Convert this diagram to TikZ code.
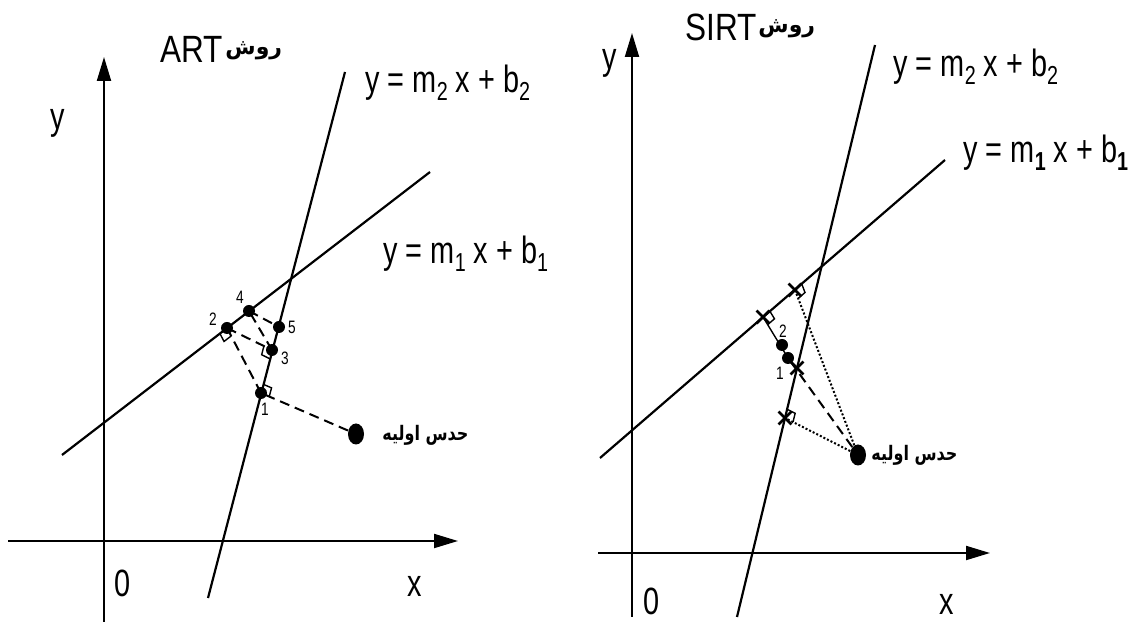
\documentclass[tikz,border=0pt]{standalone}
\usepackage{fontspec}
\setmainfont{Liberation Sans}[FakeStretch=0.76]
\newfontfamily\titlefont{Liberation Sans}[FakeStretch=0.83]
\newfontfamily\arabicfont[Script=Arabic]{DejaVu Sans}
\newfontfamily\arabicnarrow[Script=Arabic,FakeStretch=0.8]{DejaVu Sans}
\TeXXeTstate=1
\usepackage{tikz}
\usetikzlibrary{arrows.meta,calc,shapes.geometric,shapes.misc}

% lowered index as in the scanned figure
\newcommand{\lo}[1]{\raisebox{-0.35ex}{\fontsize{13}{13}\selectfont #1}}
% right-angle marker: foot, point along the line, point of origin
\newcommand{\rtang}[3]{%
  \draw[line width=0.7pt] ($(#1)!4.5pt!(#2)$) -- ($(#1)!4.5pt!(#2)+(#1)!4.5pt!(#3)-(#1)$) -- ($(#1)!4.5pt!(#3)$);}

\begin{document}
\begin{tikzpicture}[
  x=0.5pt,
  y=-0.5pt,
  font=\fontsize{19}{21}\selectfont,
  every node/.style={inner sep=0pt},
  axis/.style={line width=1pt, -{Triangle[length=12pt,width=7pt]}},
  eqline/.style={line width=1.1pt},
  proj/.style={line width=1pt, dash pattern=on 5pt off 3pt},
  ray/.style={line width=1pt, densely dotted},
  pt/.style={circle, fill, minimum size=6pt},
  guess/.style={ellipse, fill, minimum width=8pt, minimum height=10.5pt},
  xmark/.style={cross out, draw, line width=1.4pt, minimum size=5pt},
  num/.style={font=\fontsize{9}{10}\selectfont},
  title/.style={font=\titlefont\fontsize{19}{21}\selectfont},
  fa/.style={font=\arabicfont\bfseries\fontsize{11}{12}\selectfont},
  faguess/.style={font=\arabicnarrow\bfseries\fontsize{10}{12}\selectfont}
]
  \useasboundingbox (0,0) rectangle (1137,625);

  % ---------------- ART ----------------
  \coordinate (Lox) at (8,541);
  \coordinate (Lx) at (458,541);
  \coordinate (Loy) at (104,622);
  \coordinate (Ly) at (104,57);
  \draw[axis] (Lox) -- (Lx);
  \draw[axis] (Loy) -- (Ly);
  \node[anchor=base] (Lzero) at (123,597) {0};
  \node[anchor=base] (Lxlab) at (415,597) {x};
  \node[anchor=base] (Lylab) at (58,130) {y};

  \coordinate (La2) at (208,598);
  \coordinate (Lb2) at (345,72);
  \coordinate (La1) at (62,455);
  \coordinate (Lb1) at (430,172);
  \draw[eqline] (La2) -- (Lb2);
  \draw[eqline] (La1) -- (Lb1);

  \node[anchor=base west] (Leq2) at (365,93) {y = m\lo{2} x + b\lo{2}};
  \node[anchor=base west] (Leq1) at (383,264) {y = m\lo{1} x + b\lo{1}};
  \node[title, anchor=base west] (Lart) at (160,63) {ART};
  \node[fa, anchor=base west] (Lfa) at (225,55) {\beginR روش\endR};

  \coordinate (p1) at (261,393);
  \coordinate (p2) at (227,328);
  \coordinate (p3) at (272,350);
  \coordinate (p4) at (249,311);
  \coordinate (p5) at (279,327);
  \node[guess] (g) at (356,434) {};
  \node[faguess, anchor=west] (Lguess) at (382,435) {\beginR حدس اولیه\endR};

  \draw[proj] (g) -- (p1);
  \draw[proj] (p1) -- (p2);
  \draw[proj] (p2) -- (p3);
  \draw[proj] (p3) -- (p4);
  \draw[proj] (p4) -- (p5);
  \rtang{p2}{La1}{p1}
  \rtang{p1}{Lb2}{g}
  \rtang{p3}{La2}{p2}
  \foreach \p in {p1,p2,p3,p4,p5}
    \node[pt] at (\p) {};
  \node[num] (n1) at (265,409) {1};
  \node[num] (n2) at (213,319) {2};
  \node[num] (n3) at (285,358) {3};
  \node[num] (n4) at (240,297) {4};
  \node[num] (n5) at (292,327) {5};

  % ---------------- SIRT ----------------
  \coordinate (Rox) at (598,553);
  \coordinate (Rx) at (990,553);
  \coordinate (Roy) at (632,617);
  \coordinate (Ry) at (632,33);
  \draw[axis] (Rox) -- (Rx);
  \draw[axis] (Roy) -- (Ry);
  \node[anchor=base] (Rzero) at (652,615) {0};
  \node[anchor=base] (Rxlab) at (947,615) {x};
  \node[anchor=base] (Rylab) at (610,70) {y};

  \coordinate (Ra2) at (737,617);
  \coordinate (Rb2) at (875,45);
  \coordinate (Ra1) at (600,458);
  \coordinate (Rb1) at (945,160);
  \draw[eqline] (Ra2) -- (Rb2);
  \draw[eqline] (Ra1) -- (Rb1);

  \node[anchor=base west] (Req2) at (893,77) {y = m\lo{2} x + b\lo{2}};
  \node[anchor=base west] (Req1) at (963,163) {y = m\lo{\bfseries 1} x + b\lo{\bfseries 1}};
  \node[title, anchor=base west] (Rsirt) at (685,41) {SIRT};
  \node[fa, anchor=base west] (Rfa) at (758,33) {\beginR روش\endR};

  \node[guess] (h) at (858,455) {};
  \node[faguess, anchor=west] (Rguess) at (871,455) {\beginR حدس اولیه\endR};
  \coordinate (f1) at (795,290);
  \coordinate (f2) at (785,418);
  \coordinate (h1) at (763,317);
  \coordinate (h2) at (797,368);
  \coordinate (q1) at (788,358);
  \coordinate (q2) at (782,345);

  \draw[ray] (h) -- (f1);
  \draw[ray] (h) -- (f2);
  \draw[proj] (h) -- (q1);
  \draw[line width=0.7pt] (h1) -- (q1);
  \rtang{f1}{Rb1}{h}
  \rtang{f2}{Rb2}{h}
  \rtang{h1}{Rb1}{q1}
  \foreach \p in {f1,f2,h1,h2}
    \node[xmark] at (\p) {};
  \node[pt] (d1) at (q1) {};
  \node[pt] (d2) at (q2) {};
  \node[num] (m1) at (780,373) {1};
  \node[num] (m2) at (783,331) {2};
\end{tikzpicture}
\end{document}
